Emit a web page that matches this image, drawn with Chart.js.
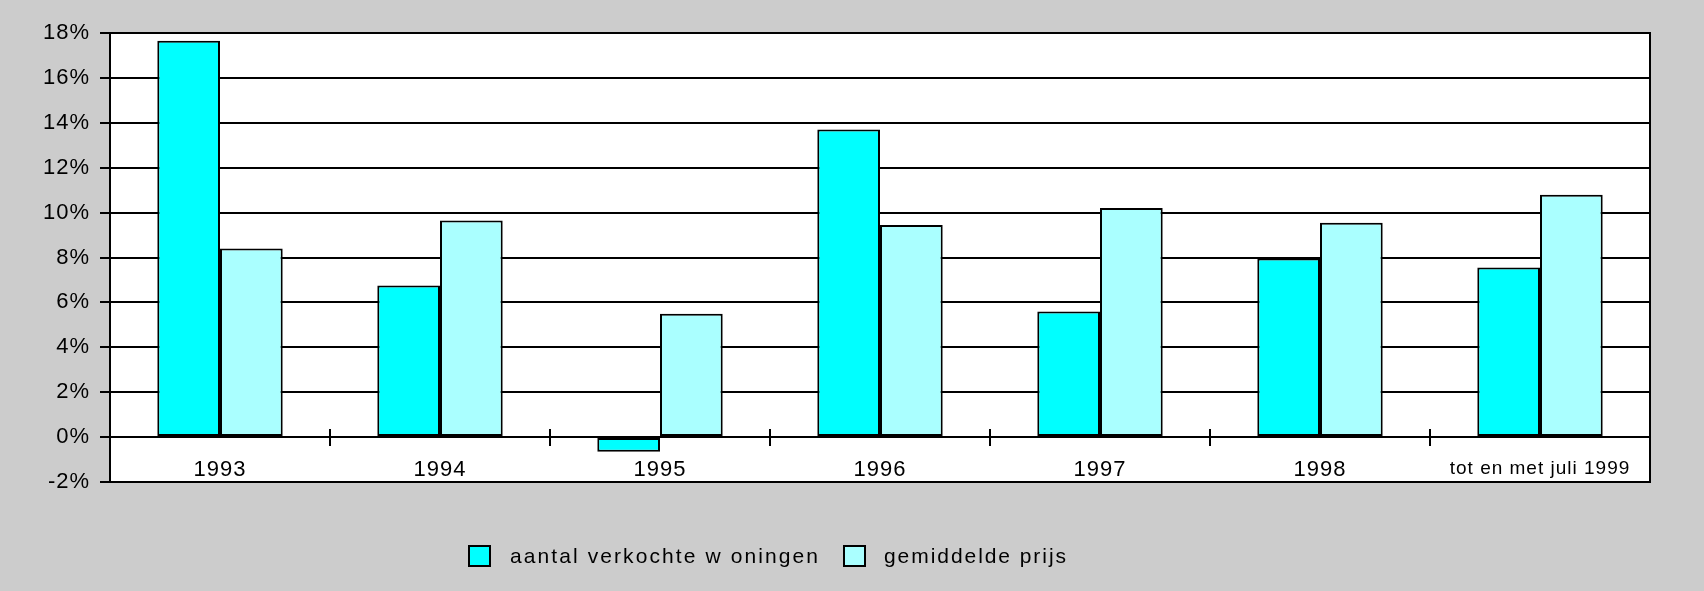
<!DOCTYPE html>
<html>
<head>
<meta charset="utf-8">
<script src="https://cdn.jsdelivr.net/npm/chart.js@4/dist/chart.umd.min.js"></script>
<style>
  html, body { margin: 0; padding: 0; background: #cccccc; }
  #chart { display: block; }
</style>
</head>
<body>
<canvas id="chart" width="1704" height="591"></canvas>
<script>
const categories = ['1993', '1994', '1995', '1996', '1997', '1998', 'tot en met juli 1999'];
const verkochteWoningen = [17.65, 6.75, -0.65, 13.7, 5.6, 7.95, 7.55];
const gemiddeldePrijs = [8.4, 9.65, 5.5, 9.45, 10.2, 9.55, 10.8];
const seriesLabels = ['aantal verkochte w oningen', 'gemiddelde prijs'];
const seriesColors = ['#00ffff', '#aaffff'];
const yMin = -2, yMax = 18, yStep = 2;

const fontFamily = '"Liberation Sans", Arial, sans-serif';

// the original lettering is spaced a little wider than Arial
const spacing = {
    id: 'spacing',
    beforeUpdate(chart) { chart.ctx.letterSpacing = '1px'; },
    beforeDraw(chart) { chart.ctx.letterSpacing = '1px'; }
};

// white plot area plus right border and crossing category ticks
const plotFrame = {
    id: 'plotFrame',
    beforeDraw(chart) {
        const a = chart.chartArea, ctx = chart.ctx;
        ctx.save();
        ctx.fillStyle = '#ffffff';
        ctx.fillRect(a.left, a.top, a.right - a.left, a.bottom - a.top);
        ctx.restore();
    },
    afterDraw(chart) {
        const a = chart.chartArea, ctx = chart.ctx;
        const x = chart.scales.x, y = chart.scales.y;
        ctx.save();
        ctx.strokeStyle = '#000';
        ctx.lineWidth = 2;
        ctx.strokeRect(a.left, a.top, a.right - a.left, a.bottom - a.top);
        const y0 = y.getPixelForValue(0);
        const step = (x.right - x.left) / categories.length;
        ctx.beginPath();
        for (let i = 1; i < categories.length; i++) {
            const px = Math.round(x.left + i * step);
            ctx.moveTo(px, y0 - 8);
            ctx.lineTo(px, y0 + 9);
        }
        ctx.stroke();
        ctx.restore();
    }
};

// legend drawn below the chart, left of centre as in the original
const legendRow = {
    id: 'legendRow',
    afterDraw(chart) {
        const ctx = chart.ctx;
        const boxX = [469, 844];
        const textX = [510, 884];
        const textW = [308, 182];
        ctx.save();
        ctx.font = '21px ' + fontFamily;
        ctx.textBaseline = 'alphabetic';
        chart.data.datasets.forEach(function (ds, i) {
            ctx.fillStyle = ds.backgroundColor;
            ctx.fillRect(boxX[i], 546, 21, 20);
            ctx.strokeStyle = '#000';
            ctx.lineWidth = 2;
            ctx.strokeRect(boxX[i], 546, 21, 20);
            ctx.letterSpacing = '0px';
            const w = ctx.measureText(ds.label).width;
            ctx.letterSpacing = Math.max(0, (textW[i] - w) / (ds.label.length - 1)).toFixed(2) + 'px';
            ctx.fillStyle = '#000';
            ctx.fillText(ds.label, textX[i], 563);
        });
        ctx.restore();
    }
};

new Chart(document.getElementById('chart'), {
    type: 'bar',
    data: {
        labels: categories,
        datasets: [{
            label: seriesLabels[0],
            data: verkochteWoningen,
            backgroundColor: seriesColors[0],
            borderColor: '#000',
            borderWidth: 2,
            borderSkipped: false
        }, {
            label: seriesLabels[1],
            data: gemiddeldePrijs,
            backgroundColor: seriesColors[1],
            borderColor: '#000',
            borderWidth: 2,
            borderSkipped: false
        }]
    },
    options: {
        responsive: false,
        animation: false,
        categoryPercentage: 0.57,
        barPercentage: 1.0,
        layout: {
            padding: { left: 0, top: 33, right: 54, bottom: 109 }
        },
        plugins: {
            legend: { display: false },
            tooltip: { enabled: false }
        },
        scales: {
            x: {
                position: { y: 0 },
                grid: { display: false },
                border: { display: false },
                ticks: {
                    color: '#000',
                    padding: 12,
                    maxRotation: 0,
                    autoSkip: false,
                    font: function (c) {
                        return c.index === categories.length - 1
                            ? { family: fontFamily, size: 19 }
                            : { family: fontFamily, size: 22 };
                    }
                }
            },
            y: {
                min: yMin,
                max: yMax,
                afterFit: function (scale) { scale.width = 110; },
                grid: {
                    color: '#000',
                    lineWidth: 2,
                    tickLength: 10
                },
                border: { display: true, color: '#000', width: 2 },
                ticks: {
                    stepSize: yStep,
                    color: '#000',
                    padding: 10,
                    font: { family: fontFamily, size: 22 },
                    callback: function (v) { return v + '%'; }
                }
            }
        }
    },
    plugins: [spacing, plotFrame, legendRow]
});
</script>
</body>
</html>
